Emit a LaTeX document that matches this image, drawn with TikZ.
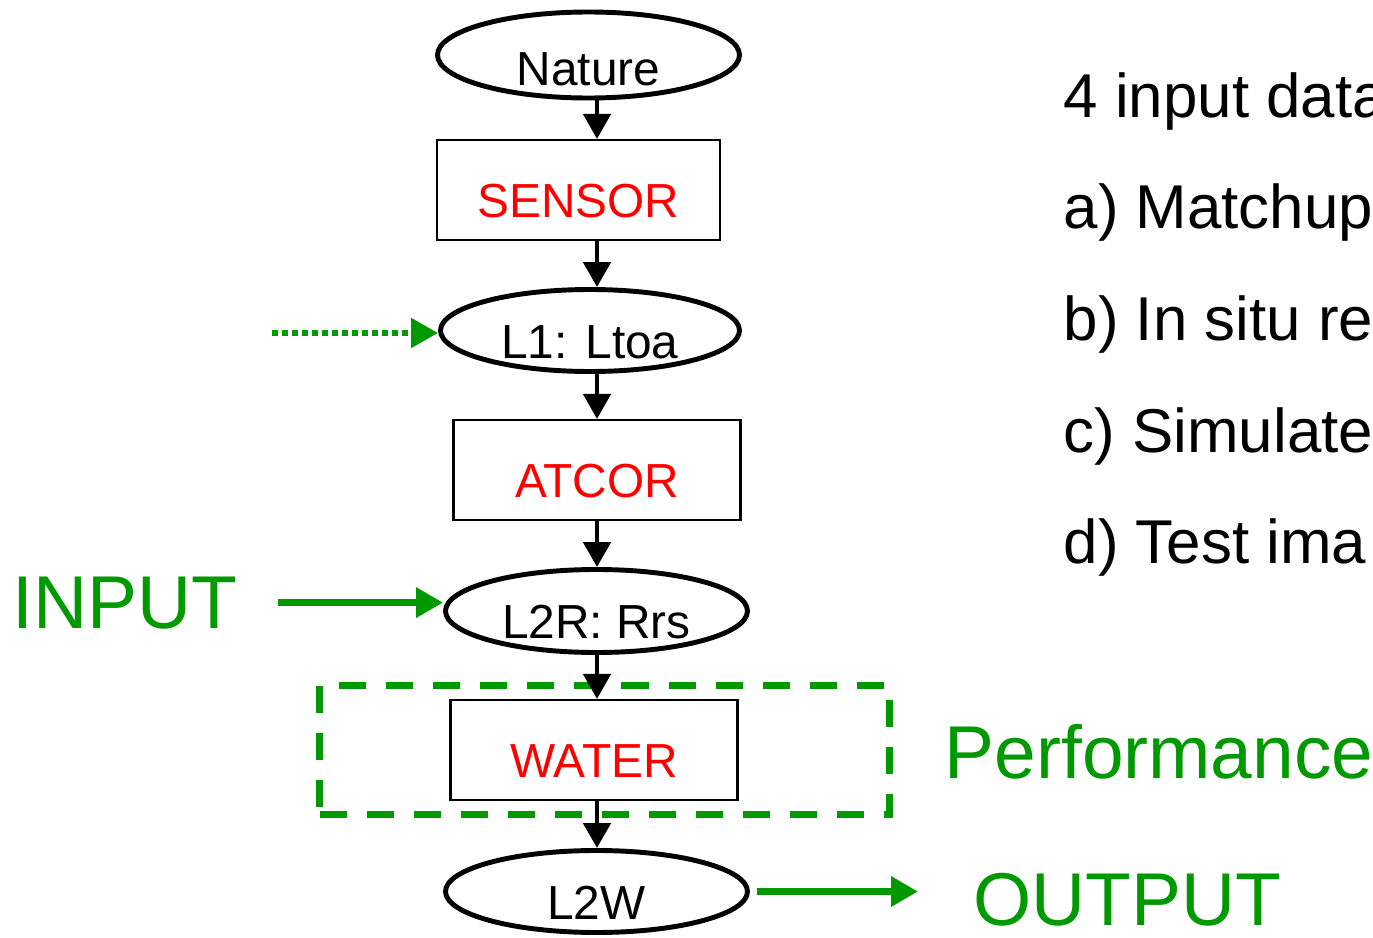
\documentclass[tikz,border=0pt]{standalone}
\usepackage{fontspec}
\setmainfont{Liberation Sans}
\usepackage{tikz}
\usetikzlibrary{shapes.geometric}
\usetikzlibrary{arrows.meta}
\definecolor{pgreen}{RGB}{0,153,0}
\tikzset{
datalevel/.style={ % product levels
ellipse, draw, line width=1.4pt,
minimum width=3.02cm, minimum height=0.83cm,
inner sep=0pt, text height=0.556cm, text depth=0pt,
font=\fontsize{13.6}{16}\selectfont},
proc/.style={ % processing steps
rectangle, draw, line width=0.6pt,
minimum width=2.87cm, minimum height=1cm,
inner sep=0pt, text height=0.556cm, text depth=0pt, text=red,
font=\fontsize{13.6}{16}\selectfont},
perfbox/.style={ % box round the tested step
rectangle, draw=pgreen, line width=2.1pt,
dash pattern=on 0.27cm off 0.2cm,
minimum width=5.70cm, minimum height=1.29cm},
flow/.style={ % black arrows
draw, line width=1.4pt,
-{Triangle[width=0.27cm,length=0.25cm]}},
gflow/.style={ % green arrows
draw=pgreen, line width=1.9pt,
-{Triangle[width=0.29cm,length=0.27cm]}},
gtext/.style={text=pgreen, inner sep=0pt, anchor=base west,
font=\fontsize{21.3}{24}\selectfont},
listline/.style={inner sep=0pt, anchor=base west,
font=\fontsize{17.6}{20}\selectfont}
}

\begin{document}
\begin{tikzpicture}
\useasboundingbox[fill=white] (0,0) rectangle (13.73,-9.38);
\coordinate (axis) at (5.97,0);
% chain
\node[datalevel, minimum height=0.86cm, text height=0.6cm] (nature) at (5.885,-0.55) {Nature};
\node[proc, minimum width=2.83cm] (sensor) at (5.785,-1.90) {SENSOR};
\node[datalevel, minimum width=2.99cm, minimum height=0.82cm] (ltoa) at (5.90,-3.305) {L1: Ltoa};
\node[proc] (atcor) at (5.97,-4.70) {ATCOR};
\node[datalevel] (rrs) at (5.965,-6.11) {L2R: Rrs};
\node[perfbox] (perf) at (6.045,-7.50) {};
\node[proc] (water) at (5.94,-7.50) {WATER};
\node[datalevel, minimum height=0.82cm] (lw) at (5.965,-8.915) {L2W};
% labels
\node[gtext] (input) at (0.12,-6.28) {INPUT};
\node[gtext] (perftext) at (9.44,-7.78) {Performance};
\node[gtext] (output) at (9.73,-9.25) {OUTPUT};
\begin{scope}
\clip (0,0) rectangle (13.73,-9.38);
\node[listline] (sets) at (10.63,-1.17) {4 input data};
\node[listline] (seta) at (10.63,-2.28) {a) Matchup};
\node[listline] (setb) at (10.63,-3.40) {b) In situ re};
\node[listline] (setc) at (10.63,-4.52) {c) Simulate};
\node[listline] (setd) at (10.63,-5.63) {d) Test ima};
\end{scope}
% arrows
\draw[flow] (nature.south -| axis) -- (sensor.north -| axis);
\draw[flow] (sensor.south -| axis) -- (ltoa.north -| axis);
\draw[flow] (ltoa.south -| axis) -- (atcor.north -| axis);
\draw[flow] (atcor.south -| axis) -- (rrs.north -| axis);
\draw[flow] (rrs.south -| axis) -- (water.north -| axis);
\draw[flow] (water.south -| axis) -- (lw.north -| axis);
\coordinate (dotsrc) at (2.72,-3.33);
\draw[gflow, line width=1.5pt, dash pattern=on 0.06cm off 0.04cm] (dotsrc) -- (ltoa.west |- dotsrc);
\draw[gflow, shorten <=0.4cm] (input.east) -- (rrs.west |- input.east);
\draw[gflow, shorten <=0.07cm, shorten >=0.55cm] (lw.east) -- (output.west |- lw.east);
\end{tikzpicture}
\end{document}
